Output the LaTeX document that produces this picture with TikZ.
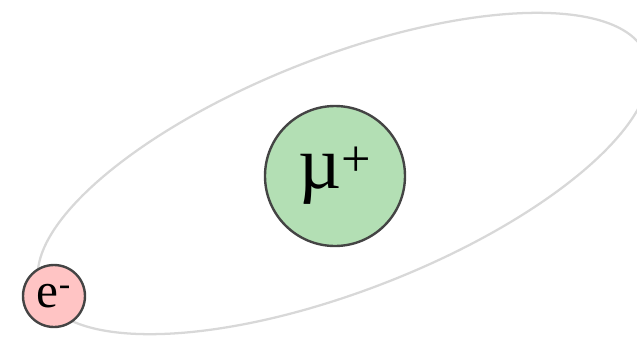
\documentclass[tikz,border=0pt]{standalone}
\usepackage{fontspec}
\setmainfont{Liberation Serif}
\usepackage{xcolor}
\usetikzlibrary{positioning}

\definecolor{orbitgray}{HTML}{D8D8D8}
\definecolor{muongreen}{HTML}{B3DFB4}
\definecolor{elecred}{HTML}{FFC4C4}
\definecolor{rimgray}{HTML}{444444}

\begin{document}
\begin{tikzpicture}[
  x={(0.75pt,0)}, y={(0,-0.75pt)},
  particle/.style={circle, draw=rimgray, line width=1.8pt, inner sep=0pt,
                   align=center},
  orbit/.style={draw=orbitgray, line width=1.7pt},
]

%% ── Frame ───────────────────────────────────────────────────────────────────
\path[use as bounding box] (0,0) rectangle (637,337);
\clip (0,0) rectangle (637,337);

%% ── Orbit ───────────────────────────────────────────────────────────────────
\draw[orbit, rotate around={21.3:(343.5,173.5)}]
  (343.5,173.5) ellipse (325 and 117);

%% ── Particles ───────────────────────────────────────────────────────────────
\node[particle, fill=muongreen, minimum size=105pt,
      font=\fontsize{56}{56}\selectfont] (muon) at (335,176)
  {µ\textsuperscript{+}};
\node[particle, fill=elecred, minimum size=46.5pt,
      font=\fontsize{37}{37}\selectfont] (electron) at (54,296)
  {e\textsuperscript{-}};

\end{tikzpicture}
\end{document}
